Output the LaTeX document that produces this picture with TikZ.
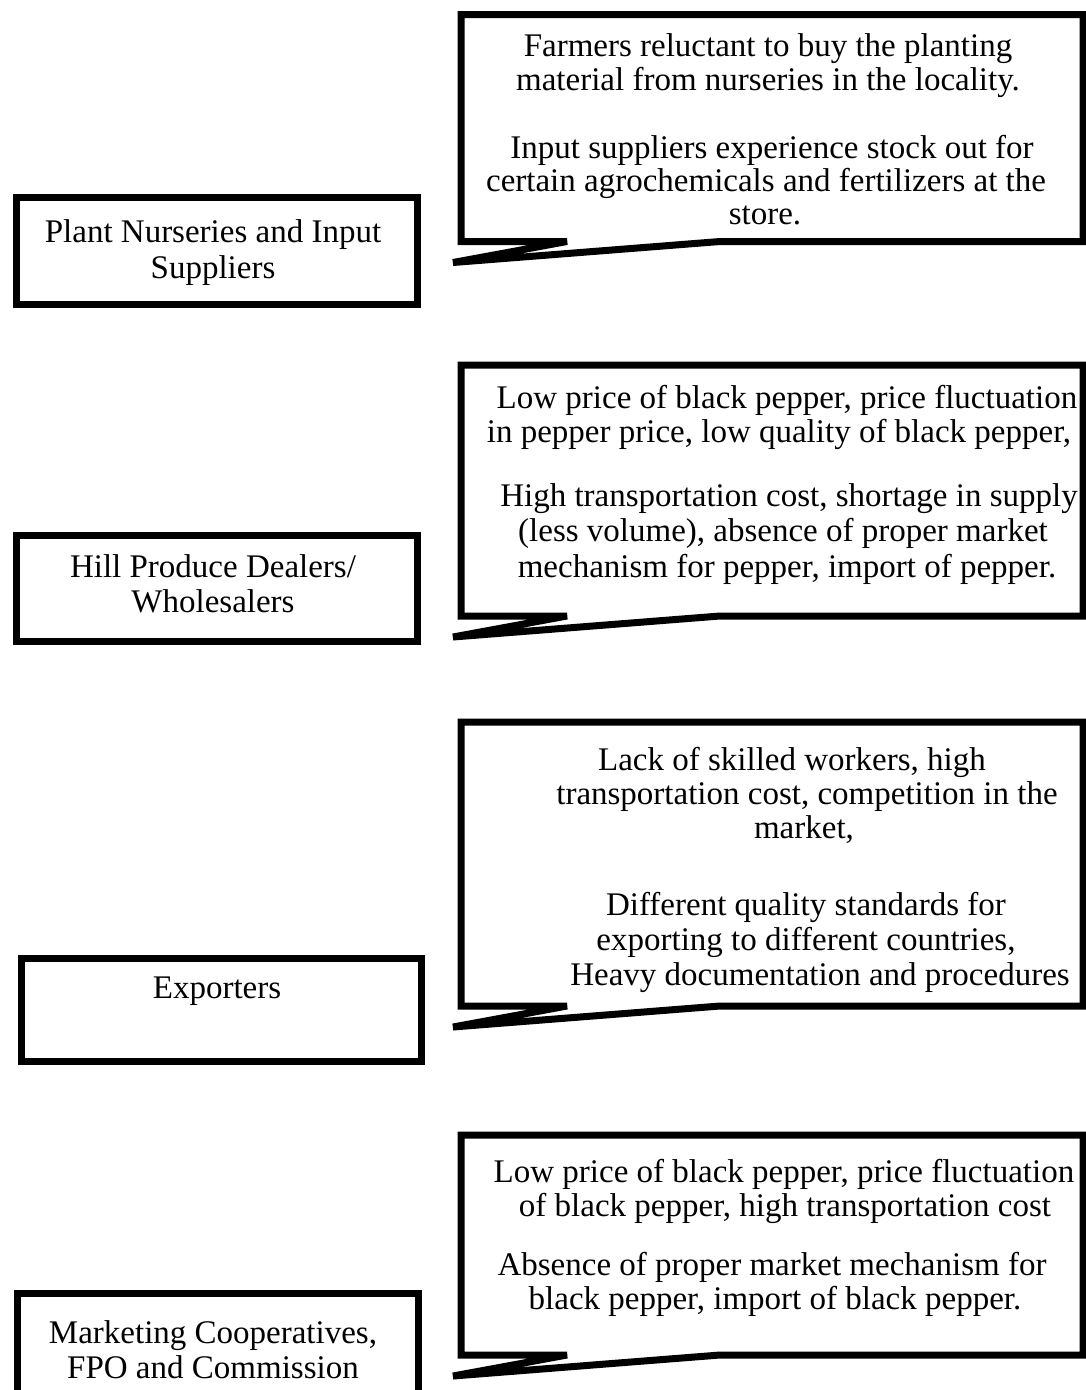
\documentclass[tikz,border=0pt]{standalone}
\usepackage{fontspec}
\setmainfont{Liberation Serif}
\begin{document}
\begin{tikzpicture}[x=1pt,y=-1pt,
  frame/.style={draw=black, line width=7pt, line join=miter, miter limit=4},
  actor/.style={frame, rectangle, inner sep=0pt, anchor=north west},
  txt/.style={anchor=base, inner sep=0pt, font=\fontsize{33}{36}\selectfont},
]
\useasboundingbox (0,0) rectangle (1085,1390);

% ---- actor boxes on the left ----
\node[actor, minimum width=401pt, minimum height=107pt] (nursery) at (12.5,193.5) {};
\node[actor, minimum width=401pt, minimum height=106pt] (dealers) at (12.5,532) {};
\node[actor, minimum width=400pt, minimum height=103pt] (export) at (17.5,955) {};
\node[actor, minimum width=401pt, minimum height=110pt] (coop) at (13.5,1290) {};

\node[txt] (n1) at (213,242) {Plant Nurseries and Input};
\node[txt] (n2) at (213,278) {Suppliers};
\node[txt] (d1) at (213,577) {Hill Produce Dealers/};
\node[txt] (d2) at (213,612) {Wholesalers};
\node[txt] (e1) at (217,998) {Exporters};
\node[txt] (m1) at (213,1343) {Marketing Cooperatives,};
\node[txt] (m2) at (213,1378) {FPO and Commission};

% ---- speech callouts on the right: top edge, bottom edge ----
\newcommand{\calloutframe}[2]{%
  \draw[frame] (461,#1) -- (1083,#1) -- (1083,#2) -- (720,#2)
    -- (453,{#2+21}) -- (567,#2) -- (461,#2) -- cycle;}
\calloutframe{14.5}{241.5}
\calloutframe{365}{616}
\calloutframe{722}{1006}
\calloutframe{1135}{1355}

% callout 1
\node[txt] (a1) at (768,56) {Farmers reluctant to buy the planting};
\node[txt] (a2) at (768,90) {material from nurseries in the locality.};
\node[txt] (a3) at (772,158) {Input suppliers experience stock out for};
\node[txt] (a4) at (766,191) {certain agrochemicals and fertilizers at the};
\node[txt] (a5) at (765,224) {store.};

% callout 2
\node[txt] (b1) at (787,408) {Low price of black pepper, price fluctuation};
\node[txt] (b2) at (779,442) {in pepper price, low quality of black pepper,};
\node[txt] (b3) at (789,506) {High transportation cost, shortage in supply};
\node[txt] (b4) at (783,541) {(less volume), absence of proper market};
\node[txt] (b5) at (787,577) {mechanism for pepper, import of pepper.};

% callout 3
\node[txt] (c1) at (792,770) {Lack of skilled workers, high};
\node[txt] (c2) at (807,804) {transportation cost, competition in the};
\node[txt] (c3) at (804,838) {market,};
\node[txt] (c4) at (806,915) {Different quality standards for};
\node[txt] (c5) at (806,950) {exporting to different countries,};
\node[txt] (c6) at (820,985) {Heavy documentation and procedures};

% callout 4
\node[txt] (f1) at (784,1182) {Low price of black pepper, price fluctuation};
\node[txt] (f2) at (785,1216) {of black pepper, high transportation cost};
\node[txt] (f3) at (772,1275) {Absence of proper market mechanism for};
\node[txt] (f4) at (775,1309) {black pepper, import of black pepper.};
\end{tikzpicture}
\end{document}
